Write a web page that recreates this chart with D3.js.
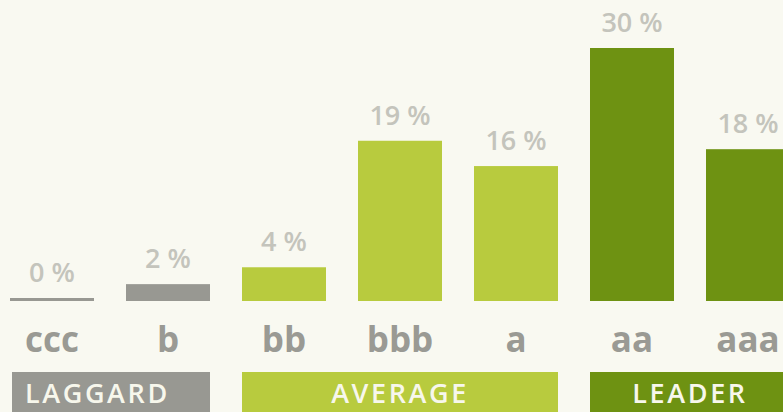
<!DOCTYPE html>
<html>
<head>
<meta charset="utf-8">
<script src="https://cdn.jsdelivr.net/npm/d3@7"></script>
<style>
  html, body { margin: 0; padding: 0; background: #f9f9f1; overflow: hidden; }
  text { font-family: "Open Sans", "Noto Sans", sans-serif; }
</style>
</head>
<body>
<div id="chart"></div>
<script>
// Chart data
var categories = ["ccc", "b", "bb", "bbb", "a", "aa", "aaa"];
var values = [0, 2, 4, 19, 16, 30, 18];
var categoryGroups = ["LAGGARD", "LAGGARD", "AVERAGE", "AVERAGE", "AVERAGE", "LEADER", "LEADER"];
var groupNames = ["LAGGARD", "AVERAGE", "LEADER"];

var colors = {
  LAGGARD: "#989892",
  AVERAGE: "#b8cb3e",
  LEADER: "#6e9212"
};

var width = 783,
    height = 412;

var baseline = 301,
    bandTop = 372;

var svg = d3.select("#chart")
            .append("svg")
            .attr("width", width)
            .attr("height", height);

svg.append("rect")
   .attr("width", width)
   .attr("height", height)
   .attr("fill", "#f9f9f1");

// Scales
var xScale = d3.scaleBand()
               .domain(categories)
               .range([10, 790])
               .paddingInner(32 / 116)
               .paddingOuter(0);

var yScale = d3.scaleLinear()
               .domain([0, 30])
               .range([baseline, 48]);

var data = categories.map(function(c, i) {
  return { cat: c, value: values[i], group: categoryGroups[i] };
});

// Bars (zero values still get a thin line)
svg.selectAll(".bar")
   .data(data)
   .enter()
   .append("rect")
   .attr("class", "bar")
   .attr("x", function(d) { return xScale(d.cat); })
   .attr("width", xScale.bandwidth())
   .attr("y", function(d) { return Math.min(yScale(d.value), baseline - 3); })
   .attr("height", function(d) { return Math.max(baseline - yScale(d.value), 3); })
   .attr("fill", function(d) { return colors[d.group]; });

// Value labels above bars
svg.selectAll(".value")
   .data(data)
   .enter()
   .append("text")
   .attr("class", "value")
   .attr("x", function(d) { return xScale(d.cat) + xScale.bandwidth() / 2; })
   .attr("y", function(d) { return Math.min(yScale(d.value), baseline - 3) - 16; })
   .attr("text-anchor", "middle")
   .attr("font-size", 27)
   .attr("font-weight", 600)
   .attr("fill", "#c4c4bc")
   .text(function(d) { return d.value + " %"; });

// Category labels
svg.selectAll(".cat")
   .data(data)
   .enter()
   .append("text")
   .attr("class", "cat")
   .attr("x", function(d) { return xScale(d.cat) + xScale.bandwidth() / 2; })
   .attr("y", 352)
   .attr("text-anchor", "middle")
   .attr("font-size", 35)
   .attr("font-weight", 700)
   .attr("fill", "#9a9a94")
   .text(function(d) { return d.cat; });

// Group bands underneath
var groups = groupNames.map(function(g, i) {
  var members = data.filter(function(d) { return d.group === g; });
  var x0 = xScale(members[0].cat),
      x1 = xScale(members[members.length - 1].cat) + xScale.bandwidth();
  return { name: g, x0: x0, x1: x1, first: i === 0 };
});

svg.selectAll(".band")
   .data(groups)
   .enter()
   .append("rect")
   .attr("class", "band")
   .attr("x", function(d) { return d.first ? d.x0 + 2 : d.x0; })
   .attr("width", function(d) { return d.x1 - d.x0 - (d.first ? 2 : 0); })
   .attr("y", bandTop)
   .attr("height", height - bandTop + 5)
   .attr("fill", function(d) { return colors[d.name]; });

// first label sits left in its band, the others are centred
svg.selectAll(".band-label")
   .data(groups)
   .enter()
   .append("text")
   .attr("class", "band-label")
   .attr("x", function(d) { return d.first ? d.x0 + 15 : (d.x0 + d.x1) / 2; })
   .attr("y", 403)
   .attr("text-anchor", function(d) { return d.first ? "start" : "middle"; })
   .attr("font-size", 27)
   .attr("font-weight", 600)
   .attr("letter-spacing", 2.6)
   .attr("fill", "#f7f7ec")
   .text(function(d) { return d.name; });
</script>
</body>
</html>
